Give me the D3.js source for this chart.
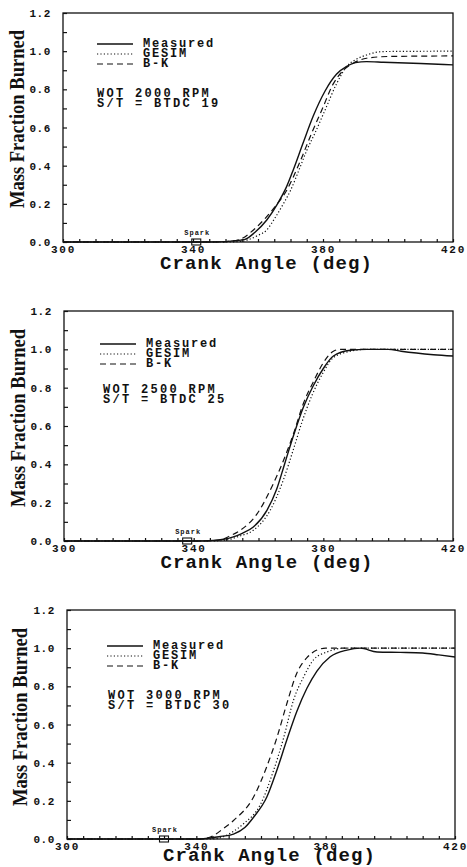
<!DOCTYPE html>
<html>
<head>
<meta charset="utf-8">
<script src="https://cdn.jsdelivr.net/npm/d3@7"></script>
<style>
  html, body { margin: 0; padding: 0; background: #fff; }
  svg { display: block; }
</style>
</head>
<body>
<svg id="chart" width="467" height="867"></svg>
<script>
// ---------- data ----------
const xTickValues = [300, 340, 380, 420];
const yTickValues = [0.0, 0.2, 0.4, 0.6, 0.8, 1.0, 1.2];
const seriesNames = ["Measured", "GESIM", "B-K"];
const panelRPM = ["2000", "2500", "3000"];
const panelBTDC = ["19", "25", "30"];
const sparkAngle = [341, 338, 330];

// 2000 RPM
const measured2000 = [[300,0],[345,0],[350,0.002],[352,0.005],[356,0.014],[359,0.05],[362.7,0.115],[366,0.2],[368.8,0.29],[370.9,0.38],[373.9,0.52],[377,0.66],[380.6,0.79],[384.2,0.88],[387.3,0.92],[390,0.94],[393.4,0.945],[398.6,0.942],[410,0.935],[420,0.928]];
const gesim2000 = [[300,0],[350,0],[355,0.004],[357,0.012],[360,0.035],[362.7,0.063],[365,0.12],[367.8,0.2],[370,0.27],[372.9,0.39],[375,0.48],[377.5,0.57],[380.6,0.69],[384.2,0.83],[387.3,0.92],[390,0.955],[393.4,0.98],[398.6,0.998],[420,1.0]];
const bk2000 = [[300,0],[348,0],[351,0.003],[354.5,0.014],[358.6,0.063],[362,0.12],[365,0.18],[368.8,0.27],[372.9,0.42],[376.5,0.57],[379.6,0.69],[383.2,0.83],[386.3,0.9],[389.3,0.937],[393.4,0.963],[400,0.972],[420,0.975]];

// 2500 RPM
const measured2500 = [[300,0],[340,0],[346,0.003],[352,0.02],[355,0.04],[358.4,0.073],[362.6,0.16],[365.6,0.27],[368.2,0.41],[370.8,0.55],[373.9,0.70],[376.9,0.81],[380,0.90],[383.1,0.965],[388.3,0.995],[393.4,1.0],[400,1.0],[404,0.99],[414,0.972],[420,0.965]];
const gesim2500 = [[300,0],[345,0],[350,0.005],[354,0.025],[358.4,0.056],[363.6,0.16],[367.7,0.32],[370.8,0.48],[373.4,0.62],[376.5,0.76],[380,0.88],[383.1,0.957],[388.3,0.99],[393.4,1.0],[420,1.0]];
const bk2500 = [[300,0],[344,0],[348,0.005],[351,0.025],[354.3,0.055],[359.5,0.14],[364.6,0.30],[367.7,0.42],[370.8,0.56],[373.9,0.72],[376.9,0.83],[380,0.93],[383.1,0.99],[385.2,1.0],[420,1.0]];

// 3000 RPM
const measured3000 = [[300,0],[340,0],[343,0.003],[347,0.012],[351.5,0.026],[355,0.06],[357.7,0.114],[361.8,0.22],[364.9,0.36],[368,0.52],[371.1,0.67],[374.2,0.79],[377.3,0.88],[381.4,0.955],[386.6,0.99],[390.7,1.0],[395.9,0.98],[403.1,0.978],[410,0.975],[415,0.965],[420,0.954]];
const gesim3000 = [[300,0],[345,0],[348,0.01],[351,0.035],[354.6,0.08],[359.8,0.18],[363.9,0.36],[367,0.53],[370.1,0.73],[373.2,0.85],[376.3,0.94],[380.4,0.98],[385.6,1.0],[420,1.0]];
const bk3000 = [[300,0],[341,0],[345.3,0.018],[348,0.05],[351.5,0.097],[357.7,0.22],[361.8,0.38],[364.9,0.53],[368,0.71],[371.1,0.87],[374.2,0.95],[377.3,0.99],[380,1.0],[420,1.0]];

const panelSeries = [
  [measured2000, gesim2000, bk2000],
  [measured2500, gesim2500, bk2500],
  [measured3000, gesim3000, bk3000]
];

// ---------- layout ----------
const frames = [
  { left: 63, right: 453, top: 13,  bottom: 242, yTitleX: 24, yTitleY: 119, xTitleY: 269,
    legX: 97,  legY: 47,  annX: 97,  annY: 97 },
  { left: 64, right: 453, top: 311, bottom: 541, yTitleX: 25, yTitleY: 418, xTitleY: 568,
    legX: 100, legY: 347, annX: 103, annY: 393 },
  { left: 67, right: 455, top: 610, bottom: 839, yTitleX: 27, yTitleY: 717, xTitleY: 861,
    legX: 107, legY: 649, annX: 108, annY: 699 }
];

const dashes = [null, "1.2,2.2", "6,4"];
const ink = "#111";
const svg = d3.select("#chart");
const monoFont = "'Liberation Mono', 'DejaVu Sans Mono', monospace";

frames.forEach((f, i) => {
  const x = d3.scaleLinear().domain([300, 420]).range([f.left, f.right]);
  const y = d3.scaleLinear().domain([0, 1.2]).range([f.bottom, f.top]);
  const g = svg.append("g");

  // frame
  g.append("rect")
    .attr("x", f.left).attr("y", f.top)
    .attr("width", f.right - f.left).attr("height", f.bottom - f.top)
    .attr("fill", "none").attr("stroke", ink).attr("stroke-width", 1.3);

  // y axis
  const yAxis = d3.axisLeft(y)
    .tickValues(d3.range(0, 12.5, 1).map(v => v / 10))
    .tickSize(-4)
    .tickPadding(12)
    .tickFormat(v => yTickValues.some(t => Math.abs(t - v) < 1e-6) ? d3.format(".1f")(v) : "");
  const ya = g.append("g").attr("transform", `translate(${f.left},0)`).call(yAxis);
  ya.select(".domain").remove();
  ya.selectAll("line").attr("stroke", ink).attr("stroke-width", 1.2);
  ya.selectAll(".tick text").filter(function () { return this.textContent === ""; }).remove();
  ya.selectAll("text").attr("font-family", monoFont).attr("font-weight", "bold")
    .attr("font-size", 11).attr("fill", ink).attr("letter-spacing", 0.6);

  // x axis
  const xAxis = d3.axisBottom(x)
    .tickValues(d3.range(300, 421, 5))
    .tickSize(-3)
    .tickPadding(3)
    .tickFormat(v => xTickValues.includes(v) ? String(v) : "");
  const xa = g.append("g").attr("transform", `translate(0,${f.bottom})`).call(xAxis);
  xa.select(".domain").remove();
  xa.selectAll("line").attr("stroke", ink).attr("stroke-width", 1.2);
  xa.selectAll(".tick text").filter(function () { return this.textContent === ""; }).remove();
  xa.selectAll("text").attr("font-family", monoFont).attr("font-weight", "bold")
    .attr("font-size", 11).attr("fill", ink).attr("letter-spacing", 1.8);

  // axis titles
  g.append("text")
    .attr("transform", `translate(${f.yTitleX},${f.yTitleY}) rotate(-90)`)
    .attr("text-anchor", "middle")
    .attr("font-family", "'Liberation Serif', 'Times New Roman', serif")
    .attr("font-size", 21).attr("font-weight", "bold")
    .attr("textLength", 178).attr("lengthAdjust", "spacingAndGlyphs")
    .attr("fill", ink)
    .text("Mass Fraction Burned");

  g.append("text")
    .attr("x", (f.left + f.right) / 2 + 8).attr("y", f.xTitleY)
    .attr("text-anchor", "middle")
    .attr("font-family", monoFont).attr("font-weight", "bold")
    .attr("font-size", 19).attr("fill", ink)
    .attr("textLength", 212).attr("lengthAdjust", "spacing")
    .text("Crank Angle (deg)");

  // curves
  const line = d3.line().x(d => x(d[0])).y(d => y(d[1])).curve(d3.curveMonotoneX);
  panelSeries[i].forEach((s, k) => {
    g.append("path").datum(s)
      .attr("d", line)
      .attr("fill", "none")
      .attr("stroke", ink)
      .attr("stroke-width", k === 0 ? 1.4 : 1.2)
      .attr("stroke-dasharray", dashes[k]);
  });

  // legend
  seriesNames.forEach((name, k) => {
    const ly = f.legY + k * 10 - 3;
    g.append("line")
      .attr("x1", f.legX).attr("x2", f.legX + 36)
      .attr("y1", ly).attr("y2", ly)
      .attr("stroke", ink).attr("stroke-width", k === 0 ? 1.4 : 1.2)
      .attr("stroke-dasharray", dashes[k]);
    g.append("text")
      .attr("x", f.legX + 46).attr("y", f.legY + k * 10)
      .attr("font-family", monoFont).attr("font-weight", "bold")
      .attr("font-size", 12).attr("letter-spacing", 1.8).attr("fill", ink)
      .text(name);
  });

  // annotation
  g.append("text")
    .attr("x", f.annX).attr("y", f.annY)
    .attr("font-family", monoFont).attr("font-weight", "bold")
    .attr("font-size", 12).attr("letter-spacing", 2.3).attr("fill", ink)
    .text(`WOT ${panelRPM[i]} RPM`);
  g.append("text")
    .attr("x", f.annX).attr("y", f.annY + 9.5)
    .attr("font-family", monoFont).attr("font-weight", "bold")
    .attr("font-size", 12).attr("letter-spacing", 2.3).attr("fill", ink)
    .text(`S/T = BTDC ${panelBTDC[i]}`);

  // spark marker
  const sx = x(sparkAngle[i]);
  g.append("rect")
    .attr("x", sx - 4.5).attr("y", f.bottom - 3)
    .attr("width", 9).attr("height", 6)
    .attr("fill", "none").attr("stroke", ink).attr("stroke-width", 1.1);
  g.append("text")
    .attr("x", sx + 1).attr("y", f.bottom - 7)
    .attr("text-anchor", "middle")
    .attr("font-family", monoFont).attr("font-weight", "bold")
    .attr("font-size", 7).attr("letter-spacing", 1).attr("fill", ink)
    .text("Spark");
});
</script>
</body>
</html>
